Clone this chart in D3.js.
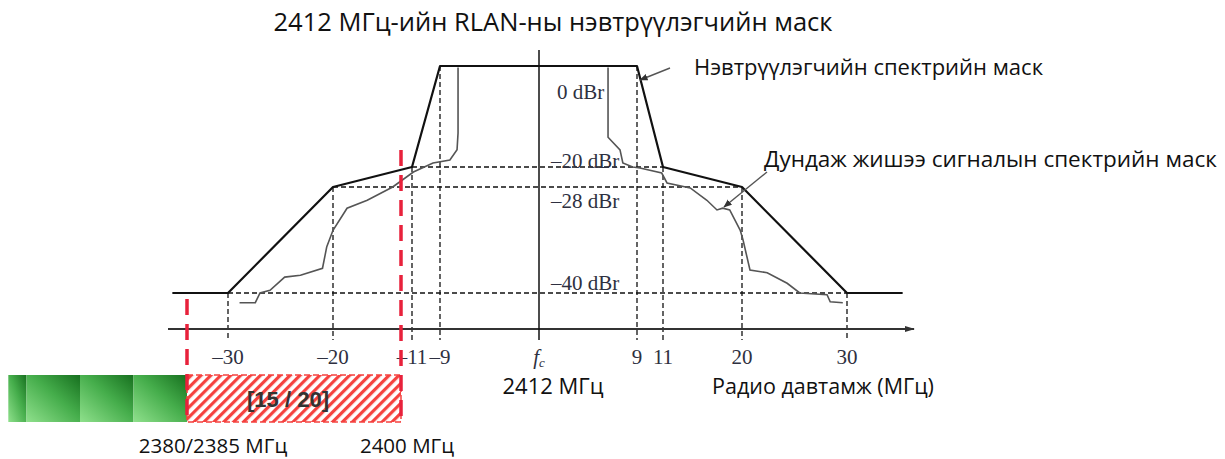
<!DOCTYPE html>
<html>
<head>
<meta charset="utf-8">
<script src="https://cdn.jsdelivr.net/npm/d3@7"></script>
<style>
  body { margin: 0; background: #fff; }
  svg { display: block; }
</style>
</head>
<body>
<div id="vis"></div>
<script>
// offsets from fc (MHz) and the dBr levels of the mask
var xTicks = [-30, -20, -11, -9, 0, 9, 11, 20, 30];
var tickLabels = ["\u201330", "\u201320", "\u201311", "\u20139", "fc", "9", "11", "20", "30"];
var levels = [0, -20, -28, -40];
var levelLabels = ["0 dBr", "\u201320 dBr", "\u201328 dBr", "\u201340 dBr"];
var guideFreq = [9, 11, 20, 30];   // half-width of each level

// transmitter mask
var maskFreq = [-35.3, -30, -20, -11, -9, 9, 11, 20, 30, 35.3];
var maskLevel = [-40, -40, -28, -20, 0, 0, -20, -28, -40, -40];

// example average signal spectrum
var sigLeftFreq = [-28.9, -27.4, -26.95, -26.0, -24.6, -23.1, -21.0, -20.6, -20, -18.4, -16.1, -13.2, -10.9, -9.5, -8.1, -7.45, -7.36, -7.36];
var sigLeftLevel = [-41.1, -41.1, -40, -39.7, -38.2, -38.0, -37.2, -34.8, -32.9, -30.4, -29.5, -28, -22, -19.2, -18.6, -16.6, -13.3, -0.3];
var sigRightFreq = [6.34, 6.34, 7.44, 7.7, 8.6, 9.23, 10.9, 11.46, 14.1, 16.0, 17.15, 17.8, 18.6, 19.8, 20.1, 20.76, 22.4, 24.3, 25.5, 28.1, 28.4, 29.6];
var sigRightLevel = [-0.3, -14.1, -16.6, -19.2, -20, -20.4, -22.4, -26.4, -28.1, -29.5, -30.6, -30.4, -30.6, -32.9, -34.0, -37.4, -37.7, -38.9, -40, -40.2, -41.0, -41.1];

// band below the chart (MHz)
var greenEdges = [2363.3, 2365, 2370, 2375, 2380];
var redBand = [2380, 2400];
var redBandLabel = "[15 / 20]";
var bandLabels = ["2380/2385 \u041c\u0413\u0446", "2400 \u041c\u0413\u0446"];

var width = 1225, height = 459;

// the original drawing is not to scale, so the scales are piecewise
var x = d3.scaleLinear().domain(xTicks).range([228, 333, 412, 440, 539, 637, 663, 742, 847]);
var y = d3.scaleLinear().domain(levels).range([66, 167, 187, 293]);
var bx = d3.scaleLinear().domain(redBand).range([187, 401]);

var axisY = 329, tickBottom = 340;

var svg = d3.select("#vis").append("svg")
    .attr("width", width)
    .attr("height", height);

var defs = svg.append("defs");

defs.append("marker")
    .attr("id", "arr")
    .attr("viewBox", "0 0 10 10")
    .attr("refX", 9).attr("refY", 5)
    .attr("markerWidth", 6).attr("markerHeight", 6)
    .attr("orient", "auto")
  .append("path")
    .attr("d", "M0,1L10,5L0,9z")
    .attr("fill", "#333");

defs.append("marker")
    .attr("id", "axarr")
    .attr("viewBox", "0 0 10 10")
    .attr("refX", 9).attr("refY", 5)
    .attr("markerWidth", 5).attr("markerHeight", 5)
    .attr("orient", "auto")
  .append("path")
    .attr("d", "M0,2L10,5L0,8z")
    .attr("fill", "#333");

var hatch = defs.append("pattern")
    .attr("id", "hatch")
    .attr("patternUnits", "userSpaceOnUse")
    .attr("width", 7).attr("height", 7)
    .attr("patternTransform", "rotate(45)");
hatch.append("rect").attr("width", 7).attr("height", 7).attr("fill", "#fff");
hatch.append("rect").attr("width", 3.2).attr("height", 7).attr("fill", "#f5423f");

var grad = defs.append("linearGradient")
    .attr("id", "green")
    .attr("x1", "0").attr("y1", "1").attr("x2", "1").attr("y2", "0");
grad.append("stop").attr("offset", "0%").attr("stop-color", "#8fe08c");
grad.append("stop").attr("offset", "55%").attr("stop-color", "#45ad4b");
grad.append("stop").attr("offset", "100%").attr("stop-color", "#17701f");

var sans = "'Open Sans', sans-serif";
var serif = "'Liberation Serif', serif";

// title
svg.append("text")
    .attr("x", 553).attr("y", 31)
    .attr("text-anchor", "middle")
    .style("font-family", sans)
    .style("font-size", "25.5px")
    .attr("fill", "#111")
    .text("2412 \u041c\u0413\u0446-\u0438\u0439\u043d RLAN-\u043d\u044b \u043d\u044d\u0432\u0442\u0440\u04af\u04af\u043b\u044d\u0433\u0447\u0438\u0439\u043d \u043c\u0430\u0441\u043a");

// dashed guides
var guides = svg.append("g")
    .attr("fill", "none")
    .attr("stroke", "#111")
    .attr("stroke-width", 1.3)
    .attr("stroke-dasharray", "5,3");

guideFreq.forEach(function(f, i) {
  var lv = levels[i];
  if (lv !== 0) {
    guides.append("line")
        .attr("x1", x(-f)).attr("x2", x(f))
        .attr("y1", y(lv)).attr("y2", y(lv));
  }
  [-f, f].forEach(function(ff) {
    guides.append("line")
        .attr("x1", x(ff)).attr("x2", x(ff))
        .attr("y1", y(lv)).attr("y2", tickBottom);
  });
});

// frequency axis
svg.append("line")
    .attr("x1", 168).attr("x2", 914)
    .attr("y1", axisY).attr("y2", axisY)
    .attr("stroke", "#333")
    .attr("stroke-width", 2)
    .attr("marker-end", "url(#axarr)");

// centre line
svg.append("line")
    .attr("x1", x(0)).attr("x2", x(0))
    .attr("y1", 50).attr("y2", tickBottom)
    .attr("stroke", "#111")
    .attr("stroke-width", 1.5);

var line = d3.line()
    .x(function(d) { return x(d[0]); })
    .y(function(d) { return y(d[1]); });

// signal spectrum
[[sigLeftFreq, sigLeftLevel], [sigRightFreq, sigRightLevel]].forEach(function(s) {
  svg.append("path")
      .datum(d3.zip(s[0], s[1]))
      .attr("d", line)
      .attr("fill", "none")
      .attr("stroke", "#555")
      .attr("stroke-width", 1.6);
});

// transmitter mask
svg.append("path")
    .datum(d3.zip(maskFreq, maskLevel))
    .attr("d", line)
    .attr("fill", "none")
    .attr("stroke", "#111")
    .attr("stroke-width", 2.2)
    .attr("stroke-linejoin", "round");

// dBr labels
svg.selectAll(".lvl")
  .data(levels)
  .enter().append("text")
    .attr("class", "lvl")
    .attr("x", function(d) { return d === 0 ? 557 : 551; })
    .attr("y", function(d, i) { return [99, 168, 208, 290][i]; })
    .style("font-family", serif)
    .style("font-size", "21px")
    .attr("fill", "#2e3040")
    .text(function(d, i) { return levelLabels[i]; });

// tick labels
svg.selectAll(".tl")
  .data(xTicks)
  .enter().append("text")
    .attr("class", "tl")
    .attr("x", function(d) { return x(d); })
    .attr("y", 364)
    .attr("text-anchor", "middle")
    .style("font-family", serif)
    .style("font-size", "21px")
    .attr("fill", "#2e3040")
    .each(function(d, i) {
      var t = d3.select(this);
      if (tickLabels[i] === "fc") {
        t.append("tspan").style("font-style", "italic").text("f");
        t.append("tspan").style("font-style", "italic").style("font-size", "13px").attr("dy", 3).text("c");
      } else {
        t.text(tickLabels[i]);
      }
    });

svg.append("text")
    .attr("x", x(0) + 14).attr("y", 394)
    .attr("text-anchor", "middle")
    .style("font-family", sans).style("font-size", "22px")
    .attr("fill", "#111")
    .text("2412 \u041c\u0413\u0446");

svg.append("text")
    .attr("x", 712).attr("y", 394)
    .style("font-family", sans).style("font-size", "21.5px")
    .attr("fill", "#111")
    .text("\u0420\u0430\u0434\u0438\u043e \u0434\u0430\u0432\u0442\u0430\u043c\u0436 (\u041c\u0413\u0446)");

// annotations with leader lines
svg.append("text")
    .attr("x", 694).attr("y", 75)
    .style("font-family", sans).style("font-size", "22px")
    .attr("fill", "#111")
    .text("\u041d\u044d\u0432\u0442\u0440\u04af\u04af\u043b\u044d\u0433\u0447\u0438\u0439\u043d \u0441\u043f\u0435\u043a\u0442\u0440\u0438\u0439\u043d \u043c\u0430\u0441\u043a");
svg.append("line")
    .attr("x1", 670).attr("y1", 68).attr("x2", 640).attr("y2", 80)
    .attr("stroke", "#555").attr("stroke-width", 1.4)
    .attr("marker-end", "url(#arr)");

svg.append("text")
    .attr("x", 764).attr("y", 167)
    .style("font-family", sans).style("font-size", "22.5px")
    .attr("fill", "#111")
    .text("\u0414\u0443\u043d\u0434\u0430\u0436 \u0436\u0438\u0448\u044d\u044d \u0441\u0438\u0433\u043d\u0430\u043b\u044b\u043d \u0441\u043f\u0435\u043a\u0442\u0440\u0438\u0439\u043d \u043c\u0430\u0441\u043a");
svg.append("line")
    .attr("x1", 767).attr("y1", 172).attr("x2", 724).attr("y2", 207)
    .attr("stroke", "#555").attr("stroke-width", 1.4)
    .attr("marker-end", "url(#arr)");

// bottom band: occupied channels and the guard band
var bandTop = 375, bandH = 47;
var greenBlocks = d3.pairs(greenEdges);
svg.selectAll(".gb")
  .data(greenBlocks)
  .enter().append("rect")
    .attr("class", "gb")
    .attr("x", function(d) { return bx(d[0]); })
    .attr("width", function(d) { return bx(d[1]) - bx(d[0]); })
    .attr("y", bandTop)
    .attr("height", bandH)
    .attr("fill", "url(#green)");

svg.append("rect")
    .attr("x", bx(redBand[0]))
    .attr("width", bx(redBand[1]) - bx(redBand[0]))
    .attr("y", bandTop)
    .attr("height", bandH)
    .attr("fill", "url(#hatch)")
    .attr("stroke", "#f5423f")
    .attr("stroke-width", 1.5)
    .attr("stroke-dasharray", "6,3");

svg.append("text")
    .attr("x", (bx(redBand[0]) + bx(redBand[1])) / 2 - 6)
    .attr("y", 407)
    .attr("text-anchor", "middle")
    .style("font-family", "'Liberation Sans', sans-serif")
    .style("font-size", "22px")
    .style("font-weight", "bold")
    .attr("fill", "#333")
    .text(redBandLabel);

// red dashed band edges
svg.selectAll(".edge")
  .data(redBand)
  .enter().append("line")
    .attr("class", "edge")
    .attr("x1", function(d) { return bx(d); })
    .attr("x2", function(d) { return bx(d); })
    .attr("y1", function(d, i) { return i === 0 ? 299 : 150; })
    .attr("y2", 420)
    .attr("stroke", "#e8213b")
    .attr("stroke-width", 3.5)
    .attr("stroke-dasharray", "16,9");

svg.selectAll(".bl")
  .data(redBand)
  .enter().append("text")
    .attr("class", "bl")
    .attr("x", function(d, i) { return i === 0 ? 213 : 407; })
    .attr("y", 453)
    .attr("text-anchor", "middle")
    .style("font-family", sans).style("font-size", "20.5px")
    .attr("fill", "#111")
    .text(function(d, i) { return bandLabels[i]; });
</script>
</body>
</html>
